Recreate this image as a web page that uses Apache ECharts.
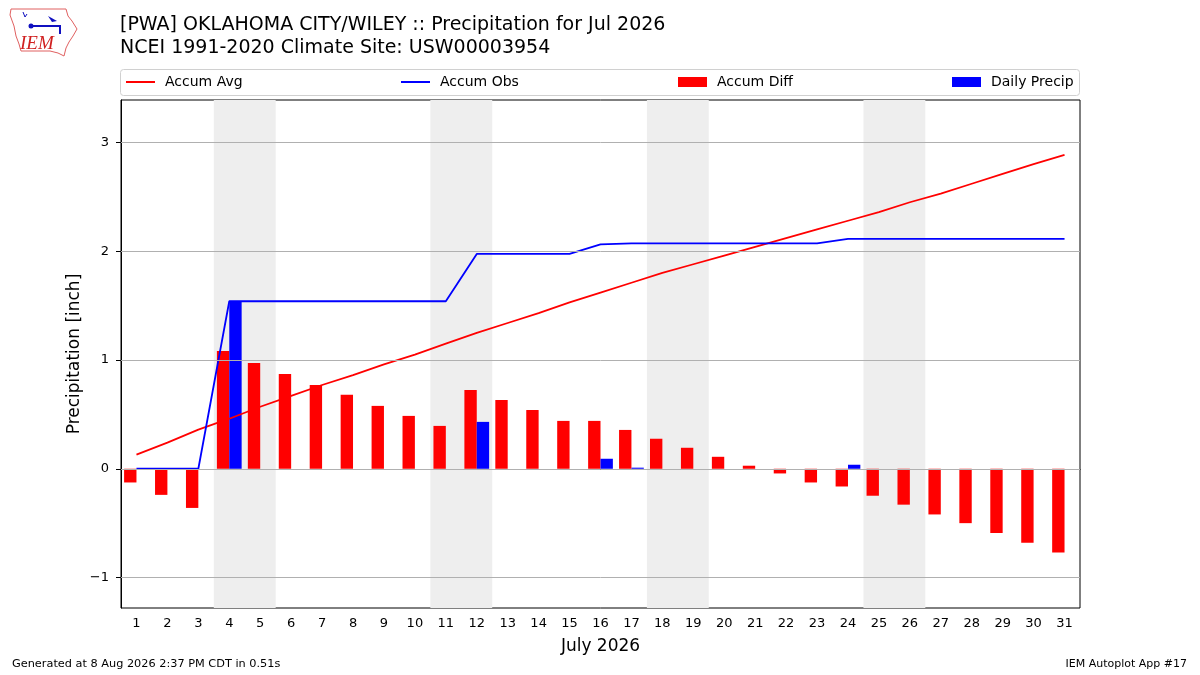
<!DOCTYPE html>
<html>
<head>
    <meta charset="utf-8">
    <title>Precipitation for Jul 2026</title>
    <script src="https://cdn.jsdelivr.net/npm/echarts@6/dist/echarts.min.js"></script>
    <style type="text/css">
        body { margin: 0; background: #fff; }
        #main { width: 1200px; height: 675px; }
    </style>
</head>
<body>
<div id="main"></div>
<script type="text/javascript">
    // data
    var days = ['1','2','3','4','5','6','7','8','9','10','11','12','13','14','15','16',
        '17','18','19','20','21','22','23','24','25','26','27','28','29','30','31'];
    var accumAvg = [0.13, 0.24, 0.36, 0.46, 0.57, 0.67, 0.77, 0.86, 0.96, 1.05, 1.15, 1.25,
        1.34, 1.43, 1.53, 1.62, 1.71, 1.80, 1.88, 1.96, 2.04, 2.12, 2.20, 2.28, 2.36, 2.45,
        2.53, 2.62, 2.71, 2.80, 2.885];
    var accumObs = [0, 0, 0, 1.54, 1.54, 1.54, 1.54, 1.54, 1.54, 1.54, 1.54, 1.975,
        1.975, 1.975, 1.975, 2.063, 2.072, 2.072, 2.072, 2.072, 2.072, 2.072, 2.072, 2.113, 2.113, 2.113,
        2.113, 2.113, 2.113, 2.113, 2.113];
    var accumDiff = [-0.126, -0.24, -0.36, 1.083, 0.972, 0.87, 0.77, 0.68, 0.578, 0.486, 0.394, 0.725,
        0.633, 0.54, 0.44, 0.44, 0.357, 0.276, 0.193, 0.11, 0.028, -0.043, -0.126, -0.163, -0.248, -0.33,
        -0.42, -0.50, -0.59, -0.68, -0.77];
    var dailyPrecip = [0, 0, 0, 1.54, 0, 0, 0, 0, 0, 0, 0, 0.431,
        0, 0, 0, 0.092, 0.01, 0, 0, 0, 0, 0, 0, 0.037, 0, 0,
        0, 0, 0, 0, 0];
    var weekends = [[3.5, 5.5], [10.5, 12.5], [17.5, 19.5], [24.5, 26.5]];
    var yTicks = [-1, 0, 1, 2, 3];

    var font = 'DejaVu Sans';
    var myChart = echarts.init(document.getElementById('main'));

    var shade = weekends.map(function (w) {
        return [{ xAxis: w[0] }, { xAxis: w[1] }];
    });
    var grids = yTicks.map(function (v) { return { yAxis: v }; });

    function lineLegend(name, color, left) {
        return {
            left: left, top: 70, itemWidth: 29, itemHeight: 2, icon: 'rect',
            data: [{ name: name, itemStyle: { color: color } }],
            textStyle: { fontFamily: font, fontSize: 14, color: '#000', padding: [0, 0, 0, 5] },
            selectedMode: false
        };
    }
    function barLegend(name, left) {
        return {
            left: left, top: 70, itemWidth: 29, itemHeight: 10, icon: 'rect',
            data: [name],
            textStyle: { fontFamily: font, fontSize: 14, color: '#000', padding: [0, 0, 0, 5] },
            selectedMode: false
        };
    }

    myChart.setOption({
        animation: false,
        backgroundColor: '#fff',
        textStyle: { fontFamily: font },
        grid: {
            left: 121, right: 120, top: 100, bottom: 67,
            show: true, borderColor: '#000', borderWidth: 1, backgroundColor: 'transparent'
        },
        legend: [
            lineLegend('Accum Avg', '#ff0000', 121),
            lineLegend('Accum Obs', '#0000ff', 396),
            barLegend('Accum Diff', 673),
            barLegend('Daily Precip', 947)
        ],
        graphic: [
            {
                type: 'rect', z: -1,
                shape: { x: 120.5, y: 69.5, width: 959, height: 26, r: 3 },
                style: { fill: '#fff', stroke: '#d0d0d0', lineWidth: 1 }
            },
            {
                type: 'text', left: 120, top: 14,
                style: {
                    text: '[PWA] OKLAHOMA CITY/WILEY :: Precipitation for Jul 2026\nNCEI 1991-2020 Climate Site: USW00003954',
                    font: '19px "DejaVu Sans"', fill: '#000', lineHeight: 23
                }
            },
            {
                type: 'text', left: 12, top: 659,
                style: { text: 'Generated at 8 Aug 2026 2:37 PM CDT in 0.51s', font: '11.3px "DejaVu Sans"', fill: '#000' }
            },
            {
                type: 'text', right: 13, top: 659,
                style: { text: 'IEM Autoplot App #17', font: '11px "DejaVu Sans"', fill: '#000' }
            },
            // rough IEM logo: state outline, station glyph, letters
            {
                type: 'polygon',
                shape: { points: [[11, 9], [66, 9], [68, 16], [72, 21], [77, 29], [73, 36], [69, 42],
                    [66, 48], [64, 56], [58, 53], [50, 51], [21, 51], [19, 44], [16, 36], [14, 26], [10, 15]] },
                style: { fill: 'none', stroke: '#e06060', lineWidth: 1 }
            },
            {
                type: 'polyline',
                shape: { points: [[31, 26], [60, 26], [60, 34]] },
                style: { stroke: '#1010c0', lineWidth: 2, fill: 'none' }
            },
            {
                type: 'circle', shape: { cx: 31, cy: 26, r: 2.5 },
                style: { fill: '#1010c0' }
            },
            {
                type: 'polyline',
                shape: { points: [[23, 12], [25, 17], [27, 14]] },
                style: { stroke: '#1010c0', lineWidth: 1, fill: 'none' }
            },
            {
                type: 'polygon',
                shape: { points: [[48, 16], [57, 21], [52, 22]] },
                style: { fill: '#1010c0' }
            },
            {
                type: 'text', left: 20, top: 34,
                style: { text: 'IEM', font: 'italic 19px "Liberation Serif"', fill: '#d02020' }
            }
        ],
        xAxis: [
            {
                type: 'category', data: days, boundaryGap: true,
                name: 'July 2026', nameLocation: 'middle', nameGap: 30,
                nameTextStyle: { fontFamily: font, fontSize: 17, color: '#000' },
                axisLine: { lineStyle: { color: '#000' } },
                axisTick: { alignWithLabel: true, length: 5, lineStyle: { color: '#000' } },
                axisLabel: { fontFamily: font, fontSize: 13, color: '#000', margin: 9 },
                splitLine: { show: false }
            },
            {
                type: 'value', min: 0.5, max: 31.5, show: false
            }
        ],
        yAxis: {
            type: 'value', min: -1.28, max: 3.39,
            name: 'Precipitation [inch]', nameLocation: 'middle', nameGap: 38, nameMoveOverlap: false,
            nameTextStyle: { fontFamily: font, fontSize: 17, color: '#000' },
            axisLine: { show: true, lineStyle: { color: '#000' } },
            axisTick: { show: true, length: 5, customValues: yTicks, lineStyle: { color: '#000' } },
            axisLabel: {
                fontFamily: font, fontSize: 13, color: '#000', margin: 12, customValues: yTicks,
                formatter: function (v) { return v < 0 ? '\u2212' + Math.abs(v) : String(v); }
            },
            splitLine: { show: false }
        },
        series: [
            {
                name: 'bg', type: 'line', xAxisIndex: 1, data: [], z: 1, silent: true,
                markArea: { silent: true, itemStyle: { color: '#eeeeee' }, data: shade },
                markLine: {
                    silent: true, symbol: 'none', label: { show: false },
                    lineStyle: { color: '#b0b0b0', width: 1, type: 'solid' },
                    data: grids
                }
            },
            {
                name: 'Accum Diff', type: 'bar', data: accumDiff, z: 3,
                barWidth: '40%', barGap: '0%', itemStyle: { color: '#ff0000' }
            },
            {
                name: 'Daily Precip', type: 'bar', data: dailyPrecip, z: 3,
                barWidth: '40%', barGap: '0%', itemStyle: { color: '#0000ff' }
            },
            {
                name: 'Accum Avg', type: 'line', data: accumAvg, z: 4,
                symbol: 'none', lineStyle: { color: '#ff0000', width: 1.8 }, itemStyle: { color: '#ff0000' }
            },
            {
                name: 'Accum Obs', type: 'line', data: accumObs, z: 4,
                symbol: 'none', lineStyle: { color: '#0000ff', width: 1.8 }, itemStyle: { color: '#0000ff' }
            }
        ]
    });
</script>
</body>
</html>
